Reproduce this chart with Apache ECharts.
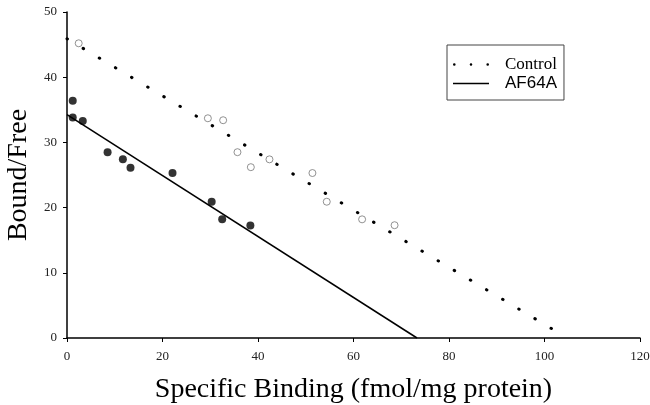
<!DOCTYPE html>
<html><head><meta charset="utf-8">
<script src="https://cdn.jsdelivr.net/npm/echarts@6/dist/echarts.min.js"></script>
<style>html,body{margin:0;padding:0;background:#fff;overflow:hidden;width:650px;height:405px}#c{width:650px;height:405px}</style>
</head><body><div id="c"></div>
<script>
// Control (open circles) data
const controlX = [2.45, 29.5, 32.7, 35.7, 38.5, 42.4, 51.4, 54.4, 61.8, 68.6];
const controlY = [45.2, 33.7, 33.4, 28.5, 26.2, 27.4, 25.3, 20.9, 18.2, 17.3];
// AF64A (filled circles) data
const afX = [1.2, 1.2, 3.3, 8.5, 11.7, 13.3, 22.1, 30.3, 32.5, 38.4];
const afY = [36.4, 33.8, 33.3, 28.5, 27.4, 26.1, 25.3, 20.9, 18.2, 17.25];
// Regression lines (endpoints)
const controlFitX = [0, 101.8];
const controlFitY = [45.9, 1.3];
const afFitX = [0, 73.3];
const afFitY = [34.25, 0];
const xTicks = [0, 20, 40, 60, 80, 100, 120];
const yTicks = [0, 10, 20, 30, 40, 50];

const zip = (a, b) => a.map((v, i) => [v, b[i]]);
const serif = 'Liberation Serif';
const dotsIcon = 'path://M0,1.3a1.3,1.3 0 1,0 2.6,0a1.3,1.3 0 1,0 -2.6,0z' +
  'M16.7,1.3a1.3,1.3 0 1,0 2.6,0a1.3,1.3 0 1,0 -2.6,0z' +
  'M33.4,1.3a1.3,1.3 0 1,0 2.6,0a1.3,1.3 0 1,0 -2.6,0z';
const solidIcon = 'path://M0,0h36v1.4h-36z';
const chart = echarts.init(document.getElementById('c'));
chart.setOption({
  animation: false,
  backgroundColor: '#fff',
  grid: { left: 67, right: 10, top: 12, bottom: 67, outerBoundsMode: 'none', containLabel: false },
  xAxis: {
    type: 'value', min: xTicks[0], max: xTicks[xTicks.length - 1], interval: 20,
    name: 'Specific Binding (fmol/mg protein)', nameLocation: 'middle', nameGap: 38,
    nameTextStyle: { fontFamily: serif, fontSize: 28, color: '#000' },
    axisLine: { lineStyle: { color: '#000', width: 1.5 } },
    axisTick: { show: true, length: 4, lineStyle: { color: '#000' } },
    axisLabel: { fontFamily: serif, fontSize: 13, color: '#222', margin: 12 },
    splitLine: { show: false }
  },
  yAxis: {
    type: 'value', min: yTicks[0], max: yTicks[yTicks.length - 1], interval: 10,
    name: 'Bound/Free', nameLocation: 'middle', nameGap: 31,
    nameTextStyle: { fontFamily: serif, fontSize: 28, color: '#000' },
    axisLine: { show: true, lineStyle: { color: '#000', width: 1.5 } },
    axisTick: { show: true, length: 4, lineStyle: { color: '#000' } },
    axisLabel: { fontFamily: serif, fontSize: 13, color: '#222', margin: 10 },
    splitLine: { show: false }
  },
  legend: {
    left: 447, top: 45, orient: 'vertical',
    padding: [11, 7, 8, 6], itemGap: 2, itemWidth: 36, itemHeight: 14,
    borderColor: '#444', borderWidth: 1,
    data: [
      { name: 'Control', icon: dotsIcon, itemStyle: { color: '#000', borderWidth: 0 },
        textStyle: { fontFamily: serif, fontSize: 17, color: '#000', padding: [0, 0, 0, 11] } },
      { name: 'AF64A', icon: solidIcon, itemStyle: { color: '#000', borderWidth: 0 },
        textStyle: { fontFamily: 'Liberation Sans', fontSize: 17, color: '#000', padding: [0, 0, 0, 11] } }
    ]
  },
  series: [
    {
      name: 'Control', type: 'line', data: zip(controlFitX, controlFitY), symbol: 'none',
      itemStyle: { color: '#000' },
      lineStyle: { color: '#000', width: 3, type: [0.5, 18.3], cap: 'round' }, z: 2
    },
    {
      name: 'AF64A', type: 'line', data: zip(afFitX, afFitY), symbol: 'none',
      itemStyle: { color: '#000' },
      lineStyle: { color: '#000', width: 1.5 }, z: 2
    },
    {
      name: 'Control data', type: 'scatter', data: zip(controlX, controlY), symbol: 'circle', symbolSize: 7,
      itemStyle: { color: '#fff', borderColor: '#777', borderWidth: 1 }, z: 3
    },
    {
      name: 'AF64A data', type: 'scatter', data: zip(afX, afY), symbol: 'circle', symbolSize: 8,
      itemStyle: { color: '#000' }, z: 3
    }
  ]
});
</script>
</body></html>
